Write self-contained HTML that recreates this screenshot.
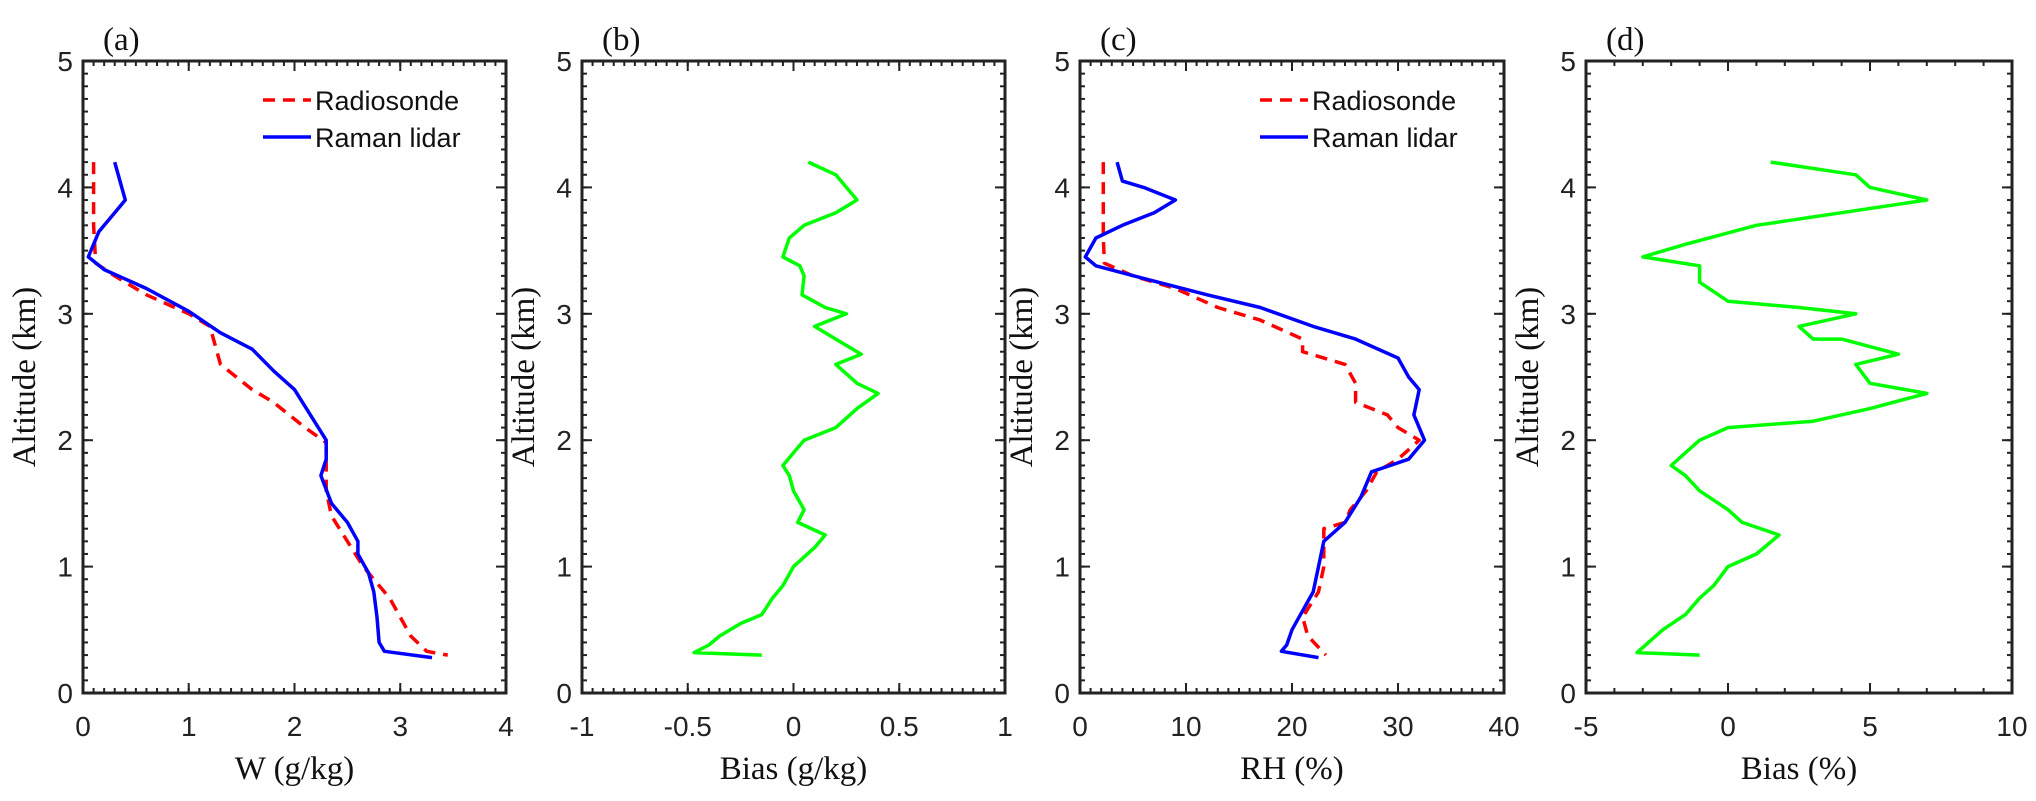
<!DOCTYPE html>
<html><head><meta charset="utf-8"><style>
html,body{margin:0;padding:0;background:#fff;}
svg{display:block;}
.tk{font-family:"Liberation Sans",sans-serif;font-size:28px;fill:#222;}
.ti{font-family:"Liberation Serif",serif;font-size:33px;fill:#111;}
.lg{font-family:"Liberation Sans",sans-serif;font-size:27px;fill:#111;}
</style></head><body>
<svg id="fig" width="2036" height="801" viewBox="0 0 2036 801" xmlns="http://www.w3.org/2000/svg"></svg>
<script>
const altTicks=[0,1,2,3,4,5];
const aTicks=[0,1,2,3,4];
const bTicks=[-1,-0.5,0,0.5,1];
const cTicks=[0,10,20,30,40];
const dTicks=[-5,0,5,10];
const aRadioW=[0.1,0.1,0.12,0.3,0.6,1.0,1.2,1.25,1.3,1.45,1.6,1.8,2.1,2.3,2.3,2.3,2.35,2.5,2.65,2.8,2.9,3.0,3.1,3.25,3.45];
const aRadioAlt=[4.2,3.7,3.4,3.3,3.15,3.0,2.9,2.75,2.6,2.5,2.4,2.3,2.1,1.98,1.8,1.6,1.4,1.2,1.0,0.85,0.75,0.6,0.45,0.33,0.3];
const aLidarW=[0.3,0.35,0.4,0.3,0.15,0.1,0.05,0.2,0.6,1.0,1.3,1.6,1.8,2.0,2.15,2.3,2.3,2.25,2.35,2.5,2.6,2.6,2.7,2.75,2.78,2.8,2.85,3.3];
const aLidarAlt=[4.2,4.05,3.9,3.8,3.65,3.55,3.45,3.35,3.2,3.02,2.85,2.72,2.55,2.4,2.2,2.0,1.85,1.72,1.5,1.35,1.2,1.1,0.95,0.8,0.6,0.4,0.33,0.28];
const bBias=[0.07,0.2,0.3,0.2,0.05,-0.02,-0.05,0.03,0.05,0.04,0.15,0.25,0.1,0.2,0.32,0.2,0.3,0.4,0.3,0.2,0.05,0.0,-0.05,-0.02,0.0,0.05,0.02,0.15,0.1,0.0,-0.05,-0.1,-0.15,-0.25,-0.35,-0.4,-0.47,-0.15];
const bAlt=[4.2,4.1,3.9,3.8,3.7,3.6,3.45,3.38,3.3,3.15,3.05,3.0,2.9,2.8,2.68,2.6,2.45,2.37,2.25,2.1,2.0,1.9,1.8,1.72,1.6,1.45,1.35,1.25,1.15,1.0,0.85,0.75,0.62,0.55,0.45,0.38,0.32,0.3];
const cRadioRH=[2.2,2.2,2.3,5,9,13,17,21,21,25,26,26,29,30,32,30,28,27,25.5,25,23,23,22.5,21,21.5,23.2];
const cRadioAlt=[4.2,3.6,3.4,3.3,3.2,3.05,2.95,2.8,2.7,2.6,2.45,2.3,2.2,2.1,2.0,1.85,1.75,1.6,1.45,1.35,1.3,1.0,0.8,0.6,0.45,0.3];
const cLidarRH=[3.5,4,6,9,7,4,1.5,0.5,1.5,6,12,17,22,26,30,31,32,31.5,32,32.5,31,27.5,26.5,25,23,22.5,22,21,20,19.5,19,22.5];
const cLidarAlt=[4.2,4.05,4.0,3.9,3.8,3.7,3.6,3.45,3.38,3.28,3.15,3.05,2.9,2.8,2.65,2.5,2.4,2.2,2.1,2.0,1.85,1.75,1.55,1.35,1.2,1.0,0.8,0.65,0.5,0.38,0.33,0.28];
const dBias=[1.5,4.5,5,7,4,1,-1.5,-3,-1,-1,0,2.5,4.5,2.5,3,4,6,4.5,5,7,5,3,0,-1,-2,-1.5,-1,0,0.5,1.8,1,0,-0.5,-1,-1.5,-2.3,-2.8,-3.2,-1];
const dAlt=[4.2,4.1,4.0,3.9,3.8,3.7,3.55,3.45,3.38,3.25,3.1,3.05,3.0,2.9,2.8,2.8,2.68,2.6,2.45,2.37,2.25,2.15,2.1,2.0,1.8,1.72,1.6,1.45,1.35,1.25,1.1,1.0,0.85,0.75,0.62,0.5,0.4,0.32,0.3];

const svg=document.getElementById('fig');
const NS='http://www.w3.org/2000/svg';
function mk(tag,attrs,parent){const e=document.createElementNS(NS,tag);for(const k in attrs)e.setAttribute(k,attrs[k]);(parent||svg).appendChild(e);return e;}
const TOP=61,BOT=693;
function yS(v){return BOT-(v/5)*(BOT-TOP);}

function panel(id,L,R,xmin,xmax,ticks,minorStep,xlabel,letter,series,legend){
  const g=mk('g',{});
  
  
  const xS=v=>L+(v-xmin)/(xmax-xmin)*(R-L);
  const nx=Math.round((xmax-xmin)/minorStep);
  for(let i=0;i<=nx;i++){const x=xS(xmin+i*minorStep);
    mk('line',{x1:x,x2:x,y1:BOT,y2:BOT-5,stroke:'#222','stroke-width':2},g);
    mk('line',{x1:x,x2:x,y1:TOP,y2:TOP+5,stroke:'#222','stroke-width':2},g);}
  for(let i=0;i<=50;i++){const y=yS(i*0.1);
    mk('line',{x1:L,x2:L+5,y1:y,y2:y,stroke:'#222','stroke-width':2},g);
    mk('line',{x1:R,x2:R-5,y1:y,y2:y,stroke:'#222','stroke-width':2},g);}
  ticks.forEach(t=>{const x=xS(t);
    mk('line',{x1:x,x2:x,y1:BOT,y2:BOT-10,stroke:'#222','stroke-width':2},g);
    mk('line',{x1:x,x2:x,y1:TOP,y2:TOP+10,stroke:'#222','stroke-width':2},g);
    const tx=mk('text',{x:x,y:736,'text-anchor':'middle',class:'tk'},g);tx.textContent=t;
    
    });
  altTicks.forEach(t=>{const y=yS(t);
    mk('line',{x1:L,x2:L+10,y1:y,y2:y,stroke:'#222','stroke-width':2},g);
    mk('line',{x1:R,x2:R-10,y1:y,y2:y,stroke:'#222','stroke-width':2},g);
    const tx=mk('text',{x:L-10,y:y+10,'text-anchor':'end',class:'tk'},g);tx.textContent=t;
    
    });
  series.forEach(s=>{
    const pts=s.x.map((v,i)=>xS(v).toFixed(1)+','+yS(s.y[i]).toFixed(1)).join(' ');
    const p=mk('polyline',{points:pts,fill:'none',stroke:s.c,'stroke-width':3.5,'stroke-linejoin':'round','stroke-dasharray':s.dash||'none'},g);
    
    });
  const box=mk('rect',{x:L,y:TOP,width:R-L,height:BOT-TOP,fill:'none',stroke:'#222','stroke-width':3},g);
  
  
  const xl=mk('text',{x:(L+R)/2,y:779,'text-anchor':'middle',class:'ti'},g);xl.textContent=xlabel;
  
  
  const yl=mk('text',{x:0,y:0,'text-anchor':'middle',class:'ti',transform:`translate(${L-48},377) rotate(-90)`},g);yl.textContent='Altitude (km)';
  
  
  const pl=mk('text',{x:L+20,y:50,class:'ti'},g);pl.textContent=letter;
  
  
  if(legend){
    const lg=mk('g',{},g);
    
    
    const lx=L+180;
    const l1=mk('line',{x1:lx,x2:lx+48,y1:100,y2:100,stroke:'#f00','stroke-width':3.5,'stroke-dasharray':'12,8'},lg);
    
    
    const t1=mk('text',{x:lx+52,y:110,class:'lg'},lg);t1.textContent='Radiosonde';
    const l2=mk('line',{x1:lx,x2:lx+48,y1:137,y2:137,stroke:'#00f','stroke-width':3.5},lg);
    
    
    const t2=mk('text',{x:lx+52,y:147,class:'lg'},lg);t2.textContent='Raman lidar';
  }
}
panel('a',83,506,0,4,aTicks,0.1,'W (g/kg)','(a)',[
 {x:aRadioW,y:aRadioAlt,c:'#f00',dash:'12,8',name:'radiosonde-w-line'},
 {x:aLidarW,y:aLidarAlt,c:'#00f',name:'raman-lidar-w-line'}],true);
panel('b',582,1005,-1,1,bTicks,0.05,'Bias (g/kg)','(b)',[
 {x:bBias,y:bAlt,c:'#0f0',name:'w-bias-line'}],false);
panel('c',1080,1504,0,40,cTicks,1,'RH (%)','(c)',[
 {x:cRadioRH,y:cRadioAlt,c:'#f00',dash:'12,8',name:'radiosonde-rh-line'},
 {x:cLidarRH,y:cLidarAlt,c:'#00f',name:'raman-lidar-rh-line'}],true);
panel('d',1586,2012,-5,10,dTicks,1,'Bias (%)','(d)',[
 {x:dBias,y:dAlt,c:'#0f0',name:'rh-bias-line'}],false);
</script>
</body></html>
